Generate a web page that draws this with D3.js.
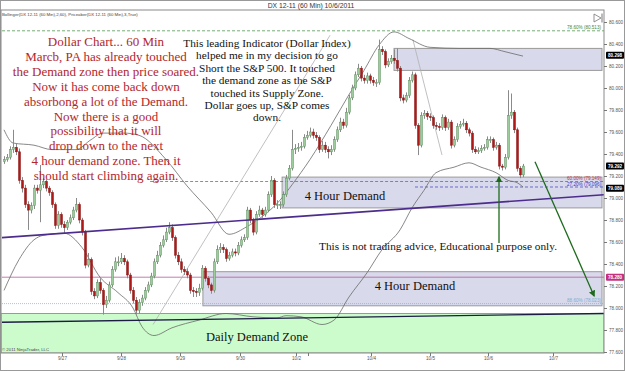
<!DOCTYPE html>
<html>
<head>
<meta charset="utf-8">
<script src="https://cdnjs.cloudflare.com/ajax/libs/d3/7.8.5/d3.min.js"></script>
<style>
body { margin: 0; background: #fff; }
svg { display: block; font-family: "Liberation Sans", Arial, sans-serif; }
.serif { font-family: "Liberation Serif", "Times New Roman", serif; }
</style>
</head>
<body>
<svg id="chartSVG" width="625" height="371"></svg>
<script>

// 60 min bars, [open, high, low, close]
var candles = [
	[79.33,79.38,79.31,79.35],[79.35,79.40,79.33,79.37],[79.37,79.47,79.35,79.44],[79.44,79.62,79.41,79.46],
	[79.46,79.50,79.39,79.42],[79.42,79.45,79.13,79.16],[79.16,79.19,79.05,79.09],[79.09,79.12,78.91,78.94],
	[78.94,78.97,78.71,78.89],[78.89,78.96,78.86,78.93],[78.93,79.12,78.90,79.09],[79.09,79.12,79.04,79.07],
	[79.07,79.30,78.78,79.12],[79.12,79.18,79.09,79.15],[79.15,79.17,79.06,79.09],[79.09,79.11,79.02,79.05],
	[79.05,79.07,78.91,78.94],[78.94,78.96,78.72,78.75],[78.75,78.88,78.72,78.85],[78.85,78.87,78.73,78.76],
	[78.76,78.79,78.68,78.73],[78.73,78.80,78.71,78.78],[78.78,78.85,78.76,78.82],[78.82,78.92,78.80,78.89],
	[78.89,79.00,78.87,78.94],[78.94,78.96,78.77,78.80],[78.80,78.82,78.66,78.69],[78.69,78.71,78.36,78.39],
	[78.39,78.50,78.37,78.44],[78.44,78.46,78.12,78.15],[78.15,78.18,78.08,78.11],[78.11,78.26,78.09,78.23],
	[78.23,78.27,78.13,78.16],[78.16,78.18,77.94,78.03],[78.03,78.11,78.00,78.07],[78.07,78.24,78.05,78.21],
	[78.21,78.38,78.19,78.35],[78.35,78.46,78.33,78.42],[78.42,78.47,78.38,78.42],[78.42,78.50,78.40,78.45],
	[78.45,78.48,78.39,78.42],[78.42,78.44,78.27,78.30],[78.30,78.32,78.13,78.16],[78.16,78.19,78.04,78.07],
	[78.07,78.10,77.94,77.98],[77.98,78.08,77.95,78.05],[78.05,78.12,78.02,78.09],[78.09,78.19,78.07,78.16],
	[78.16,78.24,78.14,78.21],[78.21,78.32,78.19,78.29],[78.29,78.45,78.27,78.42],[78.42,78.52,78.40,78.48],
	[78.48,78.60,78.46,78.57],[78.57,78.66,78.55,78.62],[78.62,78.73,78.60,78.69],[78.69,78.78,78.67,78.73],
	[78.73,78.76,78.61,78.64],[78.64,78.66,78.45,78.48],[78.48,78.51,78.39,78.42],[78.42,78.45,78.32,78.35],
	[78.35,78.38,78.30,78.33],[78.33,78.36,78.27,78.30],[78.30,78.32,78.13,78.16],[78.16,78.19,78.10,78.15],
	[78.15,78.18,78.10,78.14],[78.14,78.22,78.11,78.18],[78.18,78.39,78.16,78.36],[78.36,78.38,78.24,78.27],
	[78.27,78.29,78.18,78.21],[78.21,78.23,78.13,78.16],[78.16,78.45,78.14,78.42],[78.42,78.57,78.40,78.53],
	[78.53,78.59,78.50,78.55],[78.55,78.58,78.50,78.53],[78.53,78.55,78.42,78.45],[78.45,78.51,78.43,78.48],
	[78.48,78.54,78.46,78.51],[78.51,78.54,78.47,78.50],[78.50,78.60,78.48,78.57],[78.57,78.65,78.55,78.62],
	[78.62,78.67,78.60,78.64],[78.64,78.92,78.62,78.89],[78.89,78.91,78.77,78.80],[78.80,78.82,78.66,78.69],
	[78.69,78.88,78.67,78.85],[78.85,78.93,78.83,78.89],[78.89,78.91,78.82,78.85],[78.85,78.92,78.83,78.89],
	[78.89,79.06,78.87,79.03],[79.03,79.20,79.01,79.16],[79.16,79.18,78.91,78.94],[78.94,78.98,78.90,78.94],
	[78.94,78.97,78.90,78.94],[78.94,79.06,78.92,79.03],[79.03,79.21,79.01,79.18],[79.18,79.30,79.16,79.27],
	[79.27,79.62,79.25,79.44],[79.44,79.49,79.40,79.45],[79.45,79.50,79.42,79.46],[79.46,79.51,79.43,79.47],
	[79.47,79.58,79.45,79.55],[79.55,79.61,79.53,79.57],[79.57,79.64,79.55,79.60],[79.60,79.63,79.54,79.57],
	[79.57,79.60,79.52,79.55],[79.55,79.57,79.41,79.44],[79.44,79.52,79.42,79.48],[79.48,79.51,79.41,79.44],
	[79.44,79.47,79.36,79.42],[79.42,79.48,79.39,79.44],[79.44,79.56,79.42,79.53],[79.53,79.65,79.51,79.62],
	[79.62,79.73,79.60,79.69],[79.69,79.72,79.63,79.66],[79.66,79.82,79.64,79.78],[79.78,79.94,79.76,79.91],
	[79.91,80.03,79.89,80.00],[80.00,80.15,79.98,80.12],[80.12,80.22,80.10,80.18],[80.18,80.20,80.06,80.09],
	[80.09,80.12,80.04,80.07],[80.07,80.14,80.04,80.11],[80.11,80.13,80.04,80.07],[80.07,80.10,80.02,80.05],
	[80.05,80.08,80.01,80.05],[80.05,80.44,80.03,80.35],[80.35,80.38,80.30,80.33],[80.33,80.35,80.18,80.21],
	[80.21,80.27,80.19,80.24],[80.24,80.30,80.22,80.27],[80.27,80.35,80.22,80.25],[80.25,80.36,80.15,80.18],
	[80.18,80.20,79.88,79.91],[79.91,79.94,79.86,79.89],[79.89,79.96,79.87,79.93],[79.93,80.10,79.91,80.07],
	[80.07,80.15,80.05,80.12],[80.12,80.14,79.63,79.66],[79.66,79.68,79.39,79.48],[79.48,79.78,79.46,79.75],
	[79.75,79.80,79.72,79.77],[79.77,79.79,79.71,79.74],[79.74,79.77,79.70,79.73],[79.73,79.75,79.63,79.66],
	[79.66,79.69,79.62,79.65],[79.65,79.68,79.61,79.64],[79.64,79.76,79.62,79.73],[79.73,79.75,79.61,79.64],
	[79.64,79.72,79.62,79.69],[79.69,79.71,79.45,79.48],[79.48,79.56,79.46,79.53],[79.53,79.68,79.51,79.65],
	[79.65,79.70,79.63,79.67],[79.67,79.72,79.65,79.68],[79.68,79.70,79.59,79.62],[79.62,79.64,79.56,79.59],
	[79.59,79.61,79.41,79.44],[79.44,79.47,79.40,79.42],[79.42,79.46,79.40,79.43],[79.43,79.48,79.41,79.45],
	[79.45,79.49,79.43,79.46],[79.46,79.56,79.44,79.53],[79.53,79.56,79.50,79.53],[79.53,79.55,79.43,79.46],
	[79.46,79.51,79.44,79.48],[79.48,79.50,79.26,79.29],[79.29,79.31,79.25,79.28],[79.28,79.40,79.26,79.37],
	[79.37,79.98,79.35,79.75],[79.75,79.95,79.72,79.78],[79.78,79.80,79.59,79.62],[79.62,79.64,79.24,79.27],
	[79.27,79.29,79.18,79.21],[79.21,79.31,79.19,79.29]
];

// bollinger(60, 2) read at bar indexes
var upperBand = [[0,79.62],[3,79.50],[10,79.48],[16,79.44],[24,79.44],[29,79.53],[33,79.59],[40,79.59],[45,79.57],
	[54,79.35],[61,79.11],[69,78.87],[75,78.67],[81,78.74],[86,78.83],[92,78.98],[96,79.12],[102,79.35],[109,79.66],
	[115,79.94],[120,80.16],[125,80.39],[130,80.51],[135,80.45],[142,80.37],[152,80.36],[162,80.36],[167,80.33],[173,80.29]];
var lowerBand = [[0,78.16],[5,78.44],[10,78.62],[13,78.66],[20,78.68],[26,78.55],[32,78.28],[38,78.14],[43,78.00],
	[46,77.83],[50,77.75],[56,77.82],[65,77.89],[74,77.95],[83,77.92],[91,77.91],[94,77.93],[99,77.92],[106,77.85],
	[110,77.89],[115,78.10],[121,78.32],[126,78.53],[132,78.71],[136,78.91],[140,79.07],[144,79.23],[150,79.28],
	[155,79.32],[159,79.28],[164,79.23],[168,79.16],[171,79.14],[173,79.10]];

var priceTicks = [77.6, 77.8, 78.0, 78.2, 78.4, 78.6, 78.8, 79.0, 79.2, 79.4, 79.6, 79.8, 80.0, 80.2, 80.4, 80.6];
var dayTicks = [19.33, 39, 58.67, 78.67, 97.33, 101.33, 122.33, 142, 161.33, 183];
var dayLabels = ["9/27", "9/28", "9/29", "9/30", "10/2", "", "10/4", "10/5", "10/6", "10/7"];

// zones: start bar, top, bottom
var supplyZone = [130, 80.36, 80.16];
var upperDemand = [92.7, 79.19, 78.91];
var lowerDemand = [66.3, 78.33, 78.02];
var dailyDemand = [-0.67, 77.95, 77.6];

var fibLevels = [80.52, 79.15, 79.10, 78.04];
var fibLabels = ["78.60% (80.513)", "60.00% (79.149)", "27.20% (79.096)", "88.60% (78.023)"];
var fibStart = [-0.67, 48.7, 137, -0.67];

var purpleTrend = [[-0.67, 78.64], [200, 79.03]];
var navyTrend = [[-0.67, 77.87], [200, 77.95]];
var magentaLevel = 78.28;
var greyLines = [[[49.7, 77.85], [108.7, 80.48]], [[136.3, 80.44], [146, 79.39]]];
var arrows = [[[165, 78.59], [165, 79.19]], [[177, 79.33], [196.7, 78.11]]];

var priceMarkers = [[80.298, "#000"], [79.292, "#000"], [79.089, "#000"], [78.28, "#c4307e"]];

var redNote = ["Dollar Chart... 60 Min", "Marcb, PA has already touched", "the Demand zone then price soared.",
	"Now it has come back down", "absorbong a lot of the Demand.", "Now there is a good", "possibility that it will",
	"drop down to the next", "4 hour demand zone. Then it", "should start climbing again."];
var blackNote = ["This leading Indicator (Dollar Index)", "helped me in my decision to go", "Short the S&P 500. It touched",
	"the demand zone as the S&P", "touched its Supply Zone.", "Dollar goes up, S&P comes", "down."];

$ = null;

renderChart("#chartSVG");

function renderChart(element) {

	var svg = d3.select(element);
	var left = 1, right = 604, top = 10, bottom = 353;

	var x = d3.scaleLinear().domain([-0.67, 200]).range([2, 604]);
	var y = d3.scaleLinear().domain([77.6, 80.6]).range([352, 22]);

	svg.append("rect").attr("x", 0.5).attr("y", 0.5).attr("width", 624).attr("height", 370)
		.attr("fill", "#fff").attr("stroke", "#999");

	var clip = svg.append("clipPath").attr("id", "plotClip").append("rect")
		.attr("x", left).attr("y", top).attr("width", right - left).attr("height", bottom - top);

	var plot = svg.append("g").attr("clip-path", "url(#plotClip)");

	function box(z, fill) {
		plot.append("rect")
			.attr("x", x(z[0])).attr("y", y(z[1]))
			.attr("width", right - x(z[0]) - 2).attr("height", y(z[2]) - y(z[1]))
			.attr("fill", fill).attr("stroke", "#9a9a9a").attr("stroke-width", 1);
	}

	plot.append("rect").attr("x", left).attr("y", y(dailyDemand[1])).attr("width", right - left)
		.attr("height", bottom - y(dailyDemand[1])).attr("fill", "#ccfccc").attr("stroke", "#999");
	box(supplyZone, "#d9d9ec");
	box(upperDemand, "#d9d9ec");
	box(lowerDemand, "#d9d9ec");

	var line = d3.line().x(d => x(d[0])).y(d => y(d[1]));

	// fib levels
	var fibColors = ["#3c8c3c", "#b03a4a", "#3a3ac0", "#7ab0d0"];
	var fibDash = ["3,2", "3,2", "3,2", "1,1"];
	fibLevels.forEach(function(v, i) {
		plot.append("path").attr("d", line([[fibStart[i], v], [200, v]]))
			.attr("stroke", fibColors[i]).attr("stroke-width", 0.7).attr("stroke-dasharray", fibDash[i]).attr("fill", "none");
		plot.append("text").attr("x", 601).attr("y", y(v) - 1.5).attr("text-anchor", "end")
			.attr("font-size", 4.6).attr("fill", fibColors[i]).text(fibLabels[i]);
	});

	plot.append("path").attr("d", line([[-0.67, magentaLevel], [200, magentaLevel]]))
		.attr("stroke", "#b85a9a").attr("stroke-width", 0.8).attr("fill", "none");

	greyLines.forEach(function(g) {
		plot.append("path").attr("d", line(g)).attr("stroke", "#b0b0b0").attr("stroke-width", 0.8).attr("fill", "none");
	});

	// bollinger
	var band = d3.line().curve(d3.curveMonotoneX).x(d => x(d[0])).y(d => y(d[1]));
	[upperBand, lowerBand].forEach(function(b) {
		plot.append("path").attr("d", band(b)).attr("stroke", "#6a6a6a").attr("stroke-width", 0.8).attr("fill", "none");
	});

	// candles
	var bars = plot.append("g").selectAll("g").data(candles).enter().append("g");
	bars.append("line")
		.attr("x1", (d, i) => Math.round(x(i)) + 0.5).attr("x2", (d, i) => Math.round(x(i)) + 0.5)
		.attr("y1", d => y(d[1])).attr("y2", d => y(d[2]))
		.attr("stroke", "#8a8a8a").attr("stroke-width", 1);
	bars.append("rect")
		.attr("x", (d, i) => Math.round(x(i)) - 0.5).attr("width", 2)
		.attr("y", d => y(Math.max(d[0], d[3])))
		.attr("height", d => Math.max(1, Math.abs(y(d[0]) - y(d[3]))))
		.attr("fill", d => d[3] >= d[0] ? "#9ccc9c" : "#b01818")
		.attr("stroke", d => d[3] >= d[0] ? "#5f8f5f" : "#8a1010").attr("stroke-width", 0.5);

	plot.append("path").attr("d", line(purpleTrend)).attr("stroke", "#4c2c8c").attr("stroke-width", 1.6).attr("fill", "none");
	plot.append("path").attr("d", line(navyTrend)).attr("stroke", "#1c1c44").attr("stroke-width", 1.4).attr("fill", "none");

	// arrows
	svg.append("defs").append("marker").attr("id", "arrowHead").attr("viewBox", "0 0 10 10")
		.attr("refX", 8).attr("refY", 5).attr("markerWidth", 5).attr("markerHeight", 5).attr("orient", "auto")
		.append("path").attr("d", "M0,0L10,5L0,10z").attr("fill", "#1d6a1d");
	arrows.forEach(function(a) {
		plot.append("path").attr("d", line(a)).attr("stroke", "#1d6a1d").attr("stroke-width", 1.3)
			.attr("fill", "none").attr("marker-end", "url(#arrowHead)");
	});

	// notes
	var red = svg.append("text").attr("class", "serif").attr("font-size", 13).attr("fill", "#b3262b").attr("text-anchor", "middle");
	redNote.forEach(function(t, i) {
		red.append("tspan").attr("x", 106).attr("y", 46 + i * 14.9).text(t);
	});
	var black = svg.append("text").attr("class", "serif").attr("font-size", 11.3).attr("fill", "#111").attr("text-anchor", "middle");
	blackNote.forEach(function(t, i) {
		black.append("tspan").attr("x", 267).attr("y", 47 + i * 12.4).text(t);
	});

	function note(tx, ty, size, t) {
		svg.append("text").attr("class", "serif").attr("x", tx).attr("y", ty).attr("font-size", size)
			.attr("fill", "#111").attr("text-anchor", "middle").text(t);
	}
	note(438, 250, 11.3, "This is not trading advice, Educational purpose only.");
	note(345, 200, 12.5, "4 Hour Demand");
	note(415, 290, 12.5, "4 Hour Demand");
	note(257, 341, 12.5, "Daily Demand Zone");

	// frame + axes
	svg.append("rect").attr("x", left).attr("y", top).attr("width", right - left).attr("height", bottom - top)
		.attr("fill", "none").attr("stroke", "#8a8a8a");

	var yAxis = d3.axisRight(y).tickValues(priceTicks).tickFormat(d3.format(".3f")).tickSize(3).tickPadding(2);
	svg.append("g").attr("transform", "translate(" + right + ",0)").call(yAxis)
		.call(g => g.select(".domain").remove())
		.call(g => g.selectAll("text").attr("font-size", 4.6).attr("fill", "#555"))
		.call(g => g.selectAll("line").attr("stroke", "#777"));

	priceMarkers.forEach(function(m) {
		svg.append("rect").attr("x", 606).attr("y", y(m[0]) - 3.5).attr("width", 18).attr("height", 7)
			.attr("rx", 1).attr("fill", m[1]);
		svg.append("text").attr("x", 608).attr("y", y(m[0]) + 1.7).attr("font-size", 4.6).attr("fill", "#fff")
			.attr("font-weight", "bold").text(m[0].toFixed(3));
	});

	var xAxis = d3.axisBottom(x).tickValues(dayTicks).tickFormat((d, i) => dayLabels[i]).tickSize(3).tickPadding(1);
	svg.append("g").attr("transform", "translate(0," + bottom + ")").call(xAxis)
		.call(g => g.select(".domain").remove())
		.call(g => g.selectAll("text").attr("font-size", 4.6).attr("fill", "#555"))
		.call(g => g.selectAll("line").attr("stroke", "#777"));

	svg.append("text").attr("x", 311).attr("y", 7.5).attr("text-anchor", "middle").attr("font-size", 6.8)
		.attr("fill", "#333").text("DX 12-11 (60 Min)  10/6/2011");
	svg.append("text").attr("x", 2).attr("y", 15.5).attr("font-size", 4.3).attr("fill", "#444")
		.text("Bollinger(DX 12-11 (60 Min),2,60), Priceaber(DX 12-11 (60 Min),3,True)");
	svg.append("text").attr("x", 2).attr("y", 351).attr("font-size", 4.3).attr("fill", "#444")
		.text("\u00a9 2011 NinjaTrader, LLC");

	// scroll-to-end glyph
	svg.append("path").attr("d", "M594,14L601,18L594,22Z").attr("fill", "none").attr("stroke", "#777").attr("stroke-width", 0.8);
	svg.append("path").attr("d", "M602,13.5V22.5").attr("stroke", "#777").attr("stroke-width", 1);

}

</script>
</body>
</html>
